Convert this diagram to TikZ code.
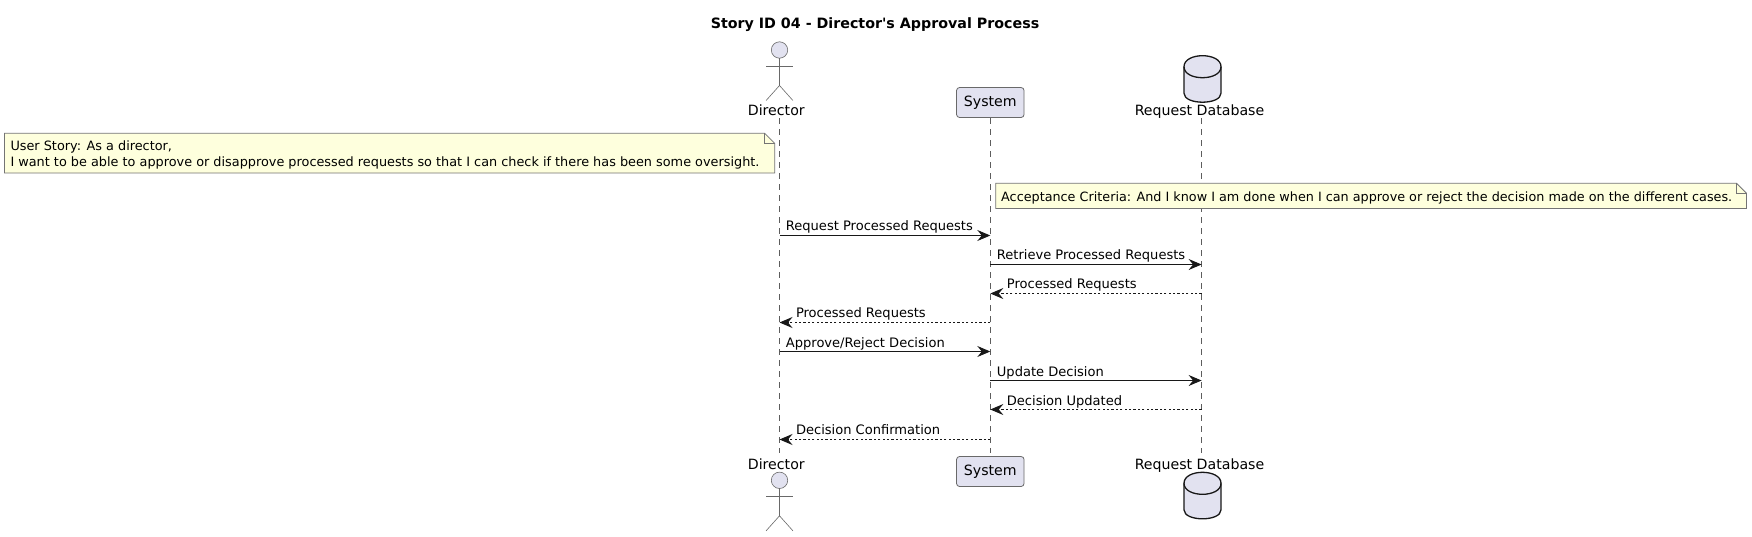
\documentclass[tikz,border=0pt]{standalone}
\usepackage{fontspec}
\setmainfont{DejaVu Sans}
\newfontfamily\plainfont{DejaVu Sans}
\usetikzlibrary{arrows.meta}
\definecolor{partfill}{HTML}{E2E2F0}
\definecolor{notefill}{HTML}{FEFFDD}
\definecolor{ink}{HTML}{181818}
\tikzset{
  lifeline/.style={draw=ink!70,line width=0.6pt,dash pattern=on 5.5pt off 5.5pt},
  msgsolid/.style={draw=ink,line width=1pt,-{Stealth[length=13pt,width=11pt,inset=4.5pt,fill=ink]}},
  msgdash/.style={draw=ink,line width=1pt,dash pattern=on 2.2pt off 2.2pt,-{Stealth[length=13pt,width=11pt,inset=4.5pt,fill=ink]}},
  msglabel/.style={anchor=base west,inner sep=0pt,font=\fontsize{13.05}{15}\selectfont,text=black},
  partlabel/.style={anchor=base,inner sep=0pt,font=\fontsize{14.15}{17}\selectfont,text=black},
  partbox/.style={draw=ink!65,fill=partfill,line width=0.8pt,rounded corners=3pt,minimum width=67.5pt,minimum height=30pt,inner sep=0pt,font=\fontsize{14.15}{17}\selectfont,text=black},
  notebody/.style={draw=ink!60,fill=notefill,line width=0.8pt,line join=miter},
  notelabel/.style={anchor=base west,inner sep=0pt,font=\fontsize{12.78}{15}\selectfont,text=black},
  notelabelwide/.style={notelabel,font=\fontsize{12.84}{15}\selectfont},
  actorline/.style={draw=ink!65,line width=0.6pt},
  cyl/.style={draw=ink,fill=partfill,line width=1.3pt},
}
\newcommand{\actorfig}[2]{% x, y of head centre
  \draw[actorline,fill=partfill] (#1,#2) circle (8.2pt);
  \draw[actorline] (#1,#2+8.2) -- (#1,#2+35.5);
  \draw[actorline] (#1-13.4,#2+16) -- (#1+13.4,#2+16);
  \draw[actorline] (#1-13.4,#2+50.5) -- (#1,#2+35.5) -- (#1+13.4,#2+50.5);
}
\newcommand{\cylfig}[2]{% centre x, top y
  \draw[cyl] (#1-18.5,#2+11) .. controls (#1-18.5,#2-3.67) and (#1+18.5,#2-3.67) .. (#1+18.5,#2+11)
     -- (#1+18.5,#2+37.5) .. controls (#1+18.5,#2+49.5) and (#1-18.5,#2+49.5) .. (#1-18.5,#2+37.5) -- cycle;
  \draw[cyl,fill=none] (#1-18.5,#2+11) .. controls (#1-18.5,#2+25.67) and (#1+18.5,#2+25.67) .. (#1+18.5,#2+11);
}
\begin{document}
\begin{tikzpicture}[x=1pt,y=-1pt]
\useasboundingbox (0,0) rectangle (1752,536);
\fill[white] (0,0) rectangle (1752,536);

\node[anchor=base,inner sep=0pt,font=\plainfont\bfseries\fontsize{14.25}{17}\selectfont] (title) at (875,28) {Story ID 04 - Director's Approval Process};

% lifeline ends
\coordinate (dirT) at (779.5,118);
\coordinate (dirB) at (779.5,453);
\coordinate (sysT) at (990.3,118);
\coordinate (sysB) at (990.3,453);
\coordinate (dbT) at (1201.6,118);
\coordinate (dbB) at (1201.6,453);
\draw[lifeline] (dirT) -- (dirB);
\draw[lifeline] (sysT) -- (sysB);
\draw[lifeline] (dbT) -- (dbB);

% participants, top
\actorfig{779.5}{50}
\node[partlabel] (dirTop) at (776.3,115) {Director};
\node[partbox] (sysTop) at (990.3,102.5) {\raisebox{-0.8pt}{System}};
\cylfig{1202.5}{55.7}
\node[partlabel] (dbTop) at (1199.5,115) {Request Database};

% participants, bottom
\actorfig{779.5}{480.3}
\node[partlabel] (dirBot) at (776.3,469) {Director};
\node[partbox] (sysBot) at (990.3,471.5) {\raisebox{-0.8pt}{System}};
\cylfig{1202.5}{472.3}
\node[partlabel] (dbBot) at (1199.5,469) {Request Database};

% notes
\draw[notebody] (4.5,133.3) -- (764.7,133.3) -- (774.7,143.3) -- (774.7,173) -- (4.5,173) -- cycle;
\draw[notebody,fill=none] (764.7,133.3) -- (764.7,143.3) -- (774.7,143.3);
\node[notelabelwide] (note1a) at (10.3,150.7) {User Story: As a director,};
\node[notelabelwide] (note1b) at (10.3,166) {I want to be able to approve or disapprove processed requests so that I can check if there has been some oversight.};

\draw[notebody] (995.7,183.3) -- (1736.5,183.3) -- (1746.5,193.3) -- (1746.5,208.5) -- (995.7,208.5) -- cycle;
\draw[notebody,fill=none] (1736.5,183.3) -- (1736.5,193.3) -- (1746.5,193.3);
\node[notelabel] (note2) at (1001,201) {Acceptance Criteria: And I know I am done when I can approve or reject the decision made on the different cases.};

% messages
\draw[msgsolid] (dirT |- 0,235.5) -- (sysT |- 0,235.5);
\node[msglabel] (m1) at (785.7,230) {Request Processed Requests};
\draw[msgsolid] (sysT |- 0,264.5) -- (dbT |- 0,264.5);
\node[msglabel] (m2) at (996.7,259) {Retrieve Processed Requests};
\draw[msgdash] (dbT |- 0,293.5) -- (sysT |- 0,293.5);
\node[msglabel] (m3) at (1006.7,288.3) {Processed Requests};
\draw[msgdash] (sysT |- 0,322.5) -- (dirT |- 0,322.5);
\node[msglabel] (m4) at (795.8,317.3) {Processed Requests};
\draw[msgsolid] (dirT |- 0,351.5) -- (sysT |- 0,351.5);
\node[msglabel] (m5) at (785.7,347) {Approve/Reject Decision};
\draw[msgsolid] (sysT |- 0,380.5) -- (dbT |- 0,380.5);
\node[msglabel] (m6) at (996.7,376) {Update Decision};
\draw[msgdash] (dbT |- 0,409.5) -- (sysT |- 0,409.5);
\node[msglabel] (m7) at (1006.7,405) {Decision Updated};
\draw[msgdash] (sysT |- 0,439.5) -- (dirT |- 0,439.5);
\node[msglabel] (m8) at (795.8,434) {Decision Confirmation};
\end{tikzpicture}
\end{document}
